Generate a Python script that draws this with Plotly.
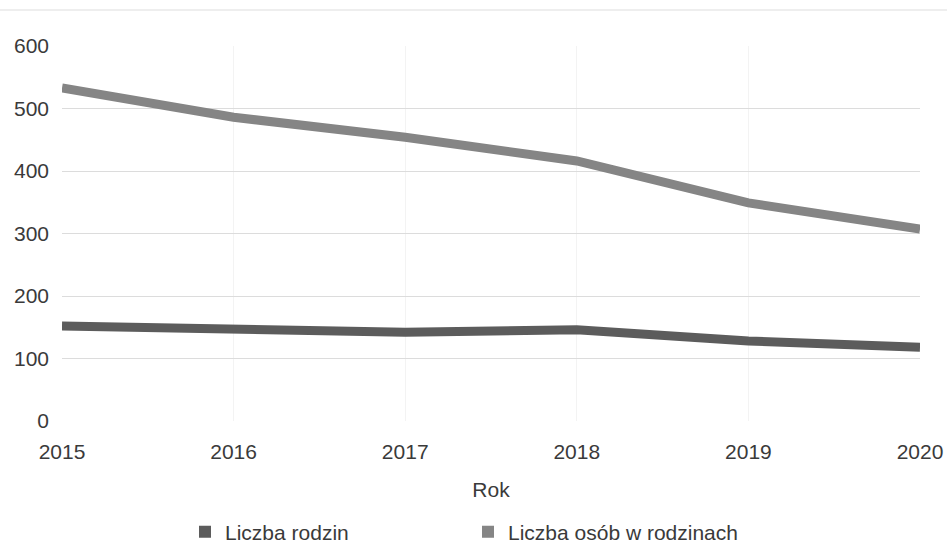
import plotly.graph_objects as go

years = [2015, 2016, 2017, 2018, 2019, 2020]
liczba_rodzin = [152, 147, 142, 146, 128, 118]
liczba_osob = [533, 486, 454, 416, 349, 307]
y_ticks = [0, 100, 200, 300, 400, 500, 600]

c1 = "#5c5c5c"
c2 = "#858585"

fig = go.Figure()
fig.add_trace(go.Scatter(x=years, y=liczba_rodzin, mode="lines", name="Liczba rodzin",
                         line=dict(color=c1, width=9), showlegend=False))
fig.add_trace(go.Scatter(x=years, y=liczba_osob, mode="lines", name="Liczba osób w rodzinach",
                         line=dict(color=c2, width=9), showlegend=False))
# legend entries with square keys
fig.add_trace(go.Scatter(x=[None], y=[None], mode="markers", name="Liczba rodzin",
                         marker=dict(symbol="square", size=12, color=c1)))
fig.add_trace(go.Scatter(x=[None], y=[None], mode="markers", name="Liczba osób w rodzinach",
                         marker=dict(symbol="square", size=12, color=c2)))

W, H = 947, 546
fig.update_layout(
    width=W, height=H,
    margin=dict(l=62, r=27, t=46, b=125, autoexpand=False),
    paper_bgcolor="white", plot_bgcolor="white",
    font=dict(family="Arial", size=21, color="#3a3a3a"),
    xaxis=dict(range=[2015, 2020], tickvals=years, showgrid=True, gridcolor="#f3f3f3",
               zeroline=False, title=dict(text="Rok", font=dict(size=21), standoff=20),
               ticks="", ticklabelstandoff=16),
    yaxis=dict(range=[0, 600], tickvals=y_ticks, showgrid=True, gridcolor="#dcdcdc",
               zeroline=False, ticks="", ticklabelstandoff=12),
    legend=dict(orientation="h", xref="container", x=185 / W, xanchor="left",
                yref="container", y=14 / H, yanchor="middle",
                font=dict(size=21), itemwidth=30, entrywidth=238),
    showlegend=True,
)
fig.add_shape(type="line", xref="paper", yref="paper", x0=-62 / 858, x1=(858 + 27) / 858,
              y0=1 + 36 / 375, y1=1 + 36 / 375, line=dict(color="#dddddd", width=1))
fig.write_html("out.html", config={"displayModeBar": False},
               post_script="document.body.style.margin='0';document.body.style.overflow='hidden';")
